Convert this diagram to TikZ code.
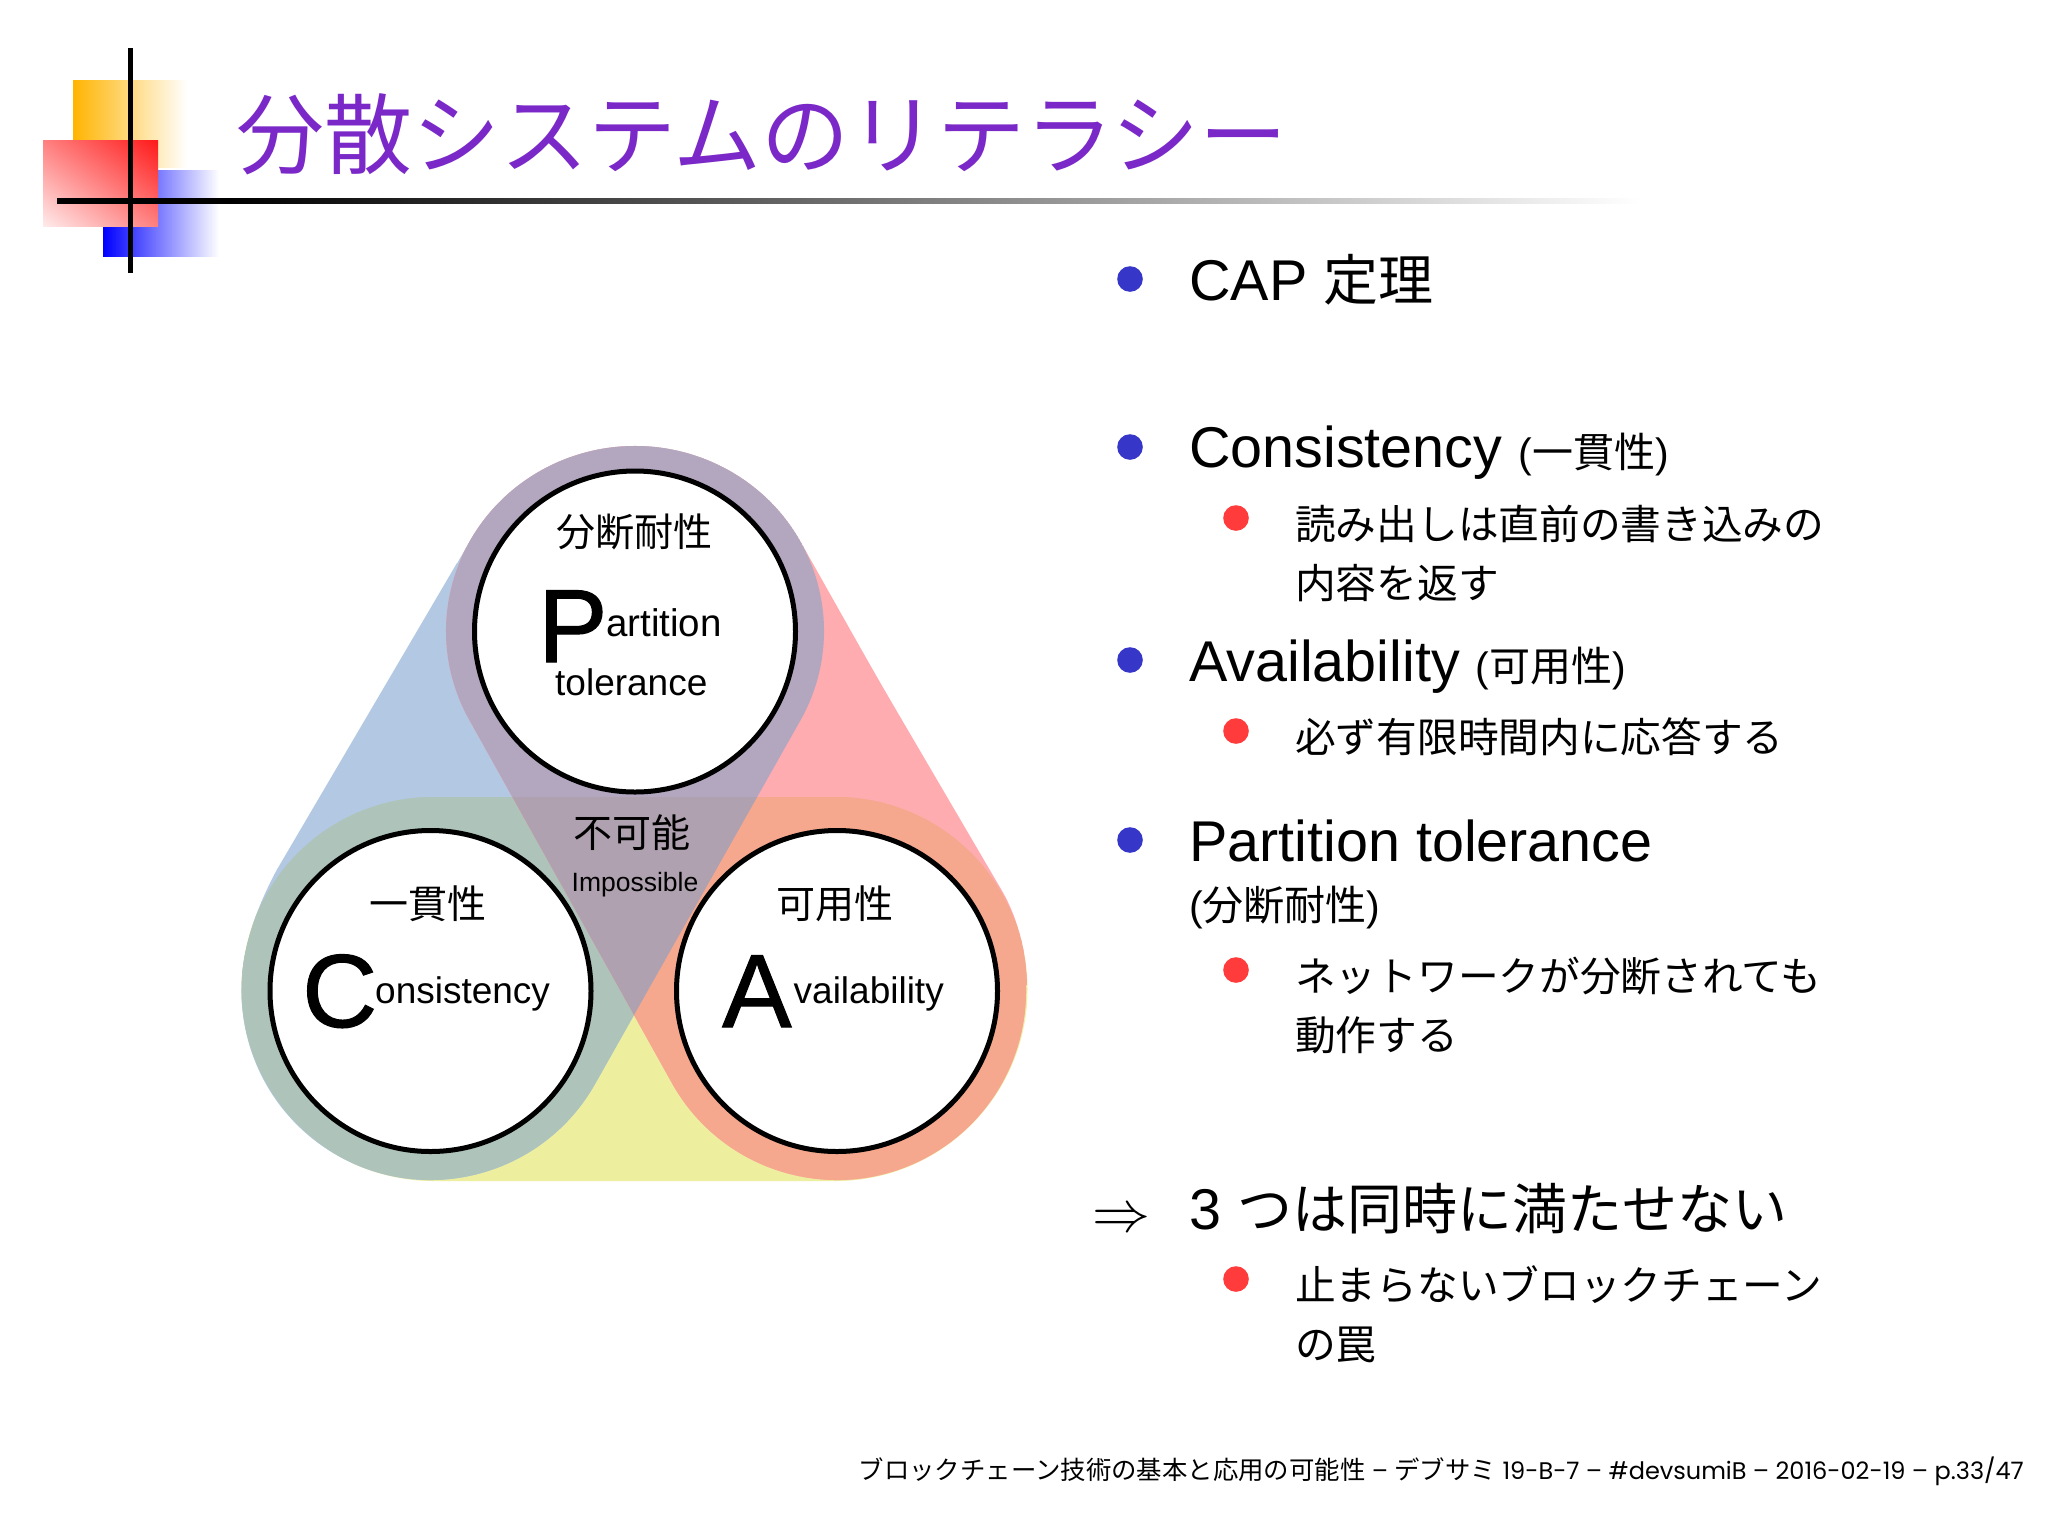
\documentclass[tikz,border=0pt]{standalone}
\usepackage{fontspec}
\usepackage{xcolor}
\usetikzlibrary{calc, positioning, shapes.geometric, shadings}
\setmainfont{Liberation Sans}
\newfontfamily\cjk{Noto Sans CJK JP}
\newfontfamily\foot{Poppins}
\newfontfamily\capfont[FakeBold=1]{Liberation Sans}

\definecolor{bandblue}{HTML}{B3C8E2}
\definecolor{bandred}{HTML}{FFACB0}
\definecolor{bandyellow}{HTML}{EEEE9F}
\definecolor{bandpurple}{HTML}{B3A6BF}
\definecolor{bandgreen}{HTML}{AEC4BB}
\definecolor{bandorange}{HTML}{F5A88D}
\definecolor{bandmiddle}{HTML}{AFA1B0}
\definecolor{titlecol}{HTML}{7A28C8}
\definecolor{dotblue}{HTML}{3636C8}
\definecolor{dotred}{HTML}{FF3B3B}
\definecolor{logoyellow}{HTML}{FFB400}
\definecolor{logored}{HTML}{FF1A1A}

\pgfdeclarehorizontalshading{titlerule}{100bp}{color(0bp)=(black); color(30.4bp)=(black); color(75bp)=(white); color(100bp)=(white)}

% band from #1 to #2, #3 is the angle where its outline leaves #1, #4 the y radius at #1
\newcommand{\bandpath}[4]{($(#1)+(#3:189 and #4)$) arc[start angle=#3, delta angle=180, x radius=189, y radius=#4] -- ($(#2)+(#3+180:189)$) arc[start angle=#3+180, delta angle=180, radius=189] -- cycle}
\newcommand{\bluepath}{\bandpath{cP}{cC}{209.4}{185}}
\newcommand{\redpath}{\bandpath{cP}{cA}{150.6}{185}}
\newcommand{\yellowpath}{(433.5,1181) arc[start angle=90, delta angle=180, radius=192] -- (835.5,797) arc[start angle=270, delta angle=180, radius=192] -- cycle}
% the outer edges run a little outside the bands
\newcommand{\blueedge}{(cP) -- (457,563) -- (276.7,870) .. controls (258,905) and (245,940) .. (242,977) -- (cC) -- cycle}
\newcommand{\rededge}{(cP) -- (810,563) -- (1003.3,893) .. controls (1018,920) and (1026,950) .. (1027,985) -- (cA) -- cycle}

\tikzset{
    txt/.style={inner sep=0, anchor=base west},
    headtxt/.style={txt, font=\fontsize{57.5}{60}\selectfont},
    subtxt/.style={txt, font=\cjk\fontsize{40.7}{60}\selectfont},
    ringlab/.style={inner sep=0, font=\cjk\fontsize{39}{45}\selectfont},
    capital/.style={txt, font=\capfont\fontsize{104}{110}\selectfont},
    rest/.style={txt, font=\fontsize{37}{40}\selectfont},
    ring/.style={circle, draw=black, fill=white, line width=5pt, minimum size=321pt, inner sep=0},
    dotone/.style={circle, fill=dotblue, minimum size=25.6pt, inner sep=0},
    dottwo/.style={circle, fill=dotred, minimum size=25.6pt, inner sep=0}
}

\begin{document}
\begin{tikzpicture}[x=1pt, y=-1pt]
    \useasboundingbox (0,0) rectangle (2048,1516);
    \fill[white] (0,0) rectangle (2048,1516);

    % logo
    \shade[left color=logoyellow, right color=white] (73,80) rectangle (187,167);
    \shade[left color=blue, right color=white] (103,170) rectangle (219,256);
    \shade[lower left=red!8, upper right=logored, upper left=red!50, lower right=red!50] (43,140) rectangle (158,226);
    \fill[black] (128,48) rectangle (132.6,273);
    \shade[shading=titlerule] (57,198.7) rectangle (1640,203.3);
    \node[inner sep=0, anchor=base west, text=titlecol, font=\cjk\fontsize{88}{90}\selectfont] (title) at (236,167) {分散システムのリテラシー};

    % the three bands
    \coordinate (cP) at (635,631);
    \coordinate (cC) at (430.5,991);
    \coordinate (cA) at (837,991);
    \fill[bandyellow] \yellowpath;
    \fill[bandblue] \bluepath;
    \fill[bandblue] \blueedge;
    \fill[bandred] \redpath;
    \fill[bandred] \rededge;
    \begin{scope}
        \clip \bluepath;
        \fill[bandpurple] \redpath;
    \end{scope}
    \begin{scope}
        \clip \yellowpath;
        \fill[bandgreen] \bluepath;
        \fill[bandgreen] \blueedge;
        \fill[bandorange] \redpath;
        \fill[bandorange] \rededge;
        \clip \bluepath;
        \fill[bandmiddle] \redpath;
    \end{scope}

    \node[ring] (ringP) at (635,631.5) {};
    \node[ring] (ringC) at (430.5,991) {};
    \node[ring] (ringA) at (837,991) {};

    \node[ringlab] (nameP) at (634,531.5) {分断耐性};
    \node[capital] (capP) at (538,662) {P};
    \node[rest, font=\fontsize{38.5}{40}\selectfont] (restP) at (606,636) {artition};
    \node[rest] (tolP) at (555,695) {tolerance};
    \node[ringlab] (nameC) at (428,904) {一貫性};
    \node[capital] (capC) at (302,1027) {C};
    \node[rest] (restC) at (375,1003) {onsistency};
    \node[ringlab] (nameA) at (834.5,904) {可用性};
    \node[capital] (capA) at (722,1027) {A};
    \node[rest] (restA) at (793.5,1003) {vailability};
    \node[ringlab] (noway) at (632,833) {不可能};
    \node[inner sep=0, font=\fontsize{26.5}{30}\selectfont] (nowayen) at (635,885) {Impossible};

    % right column
    \node[dotone] (d1) at (1130,279) {};
    \node[headtxt] (cap) at (1189,300) {CAP {\cjk\fontsize{55}{60}\selectfont 定理}};
    \node[dotone] (d2) at (1130,447) {};
    \node[headtxt] (cons) at (1189,467) {Consistency {\fontsize{41}{60}\selectfont (\cjk 一貫性\rmfamily)}};
    \node[dottwo] (d3) at (1236,518) {};
    \node[subtxt] (cons1) at (1295,539) {読み出しは直前の書き込みの};
    \node[subtxt] (cons2) at (1295,598) {内容を返す};
    \node[dotone] (d4) at (1130,660) {};
    \node[headtxt] (avail) at (1189,681) {Availability {\fontsize{41}{60}\selectfont (\cjk 可用性\rmfamily)}};
    \node[dottwo] (d5) at (1236,731) {};
    \node[subtxt] (avail1) at (1295,752) {必ず有限時間内に応答する};
    \node[dotone] (d6) at (1130,840) {};
    \node[headtxt] (part) at (1189,861) {Partition tolerance};
    \node[txt, font=\fontsize{41}{60}\selectfont] (part0) at (1189,920) {(\cjk 分断耐性\rmfamily)};
    \node[dottwo] (d7) at (1236,970) {};
    \node[subtxt] (part1) at (1295,991) {ネットワークが分断されても};
    \node[subtxt] (part2) at (1295,1050) {動作する};
    \node[scale=5.8, inner sep=0] (so) at (1121,1221) {$\Rightarrow$};
    \node[headtxt] (three) at (1189,1229) {3 {\cjk\fontsize{55}{60}\selectfont つは同時に満たせない}};
    \node[dottwo] (d8) at (1236,1279) {};
    \node[subtxt] (three1) at (1295,1300) {止まらないブロックチェーン};
    \node[subtxt] (three2) at (1295,1359) {の罠};

    % footer
    \node[inner sep=0, anchor=base east, font=\foot\fontsize{24}{30}\selectfont] (footer) at (2024,1479) {{\cjk\fontsize{25.4}{30}\selectfont ブロックチェーン技術の基本と応用の可能性} – {\cjk\fontsize{25.4}{30}\selectfont デブサミ} 19-B-7 – \#devsumiB – 2016-02-19 – p.33/47};
\end{tikzpicture}
\end{document}
